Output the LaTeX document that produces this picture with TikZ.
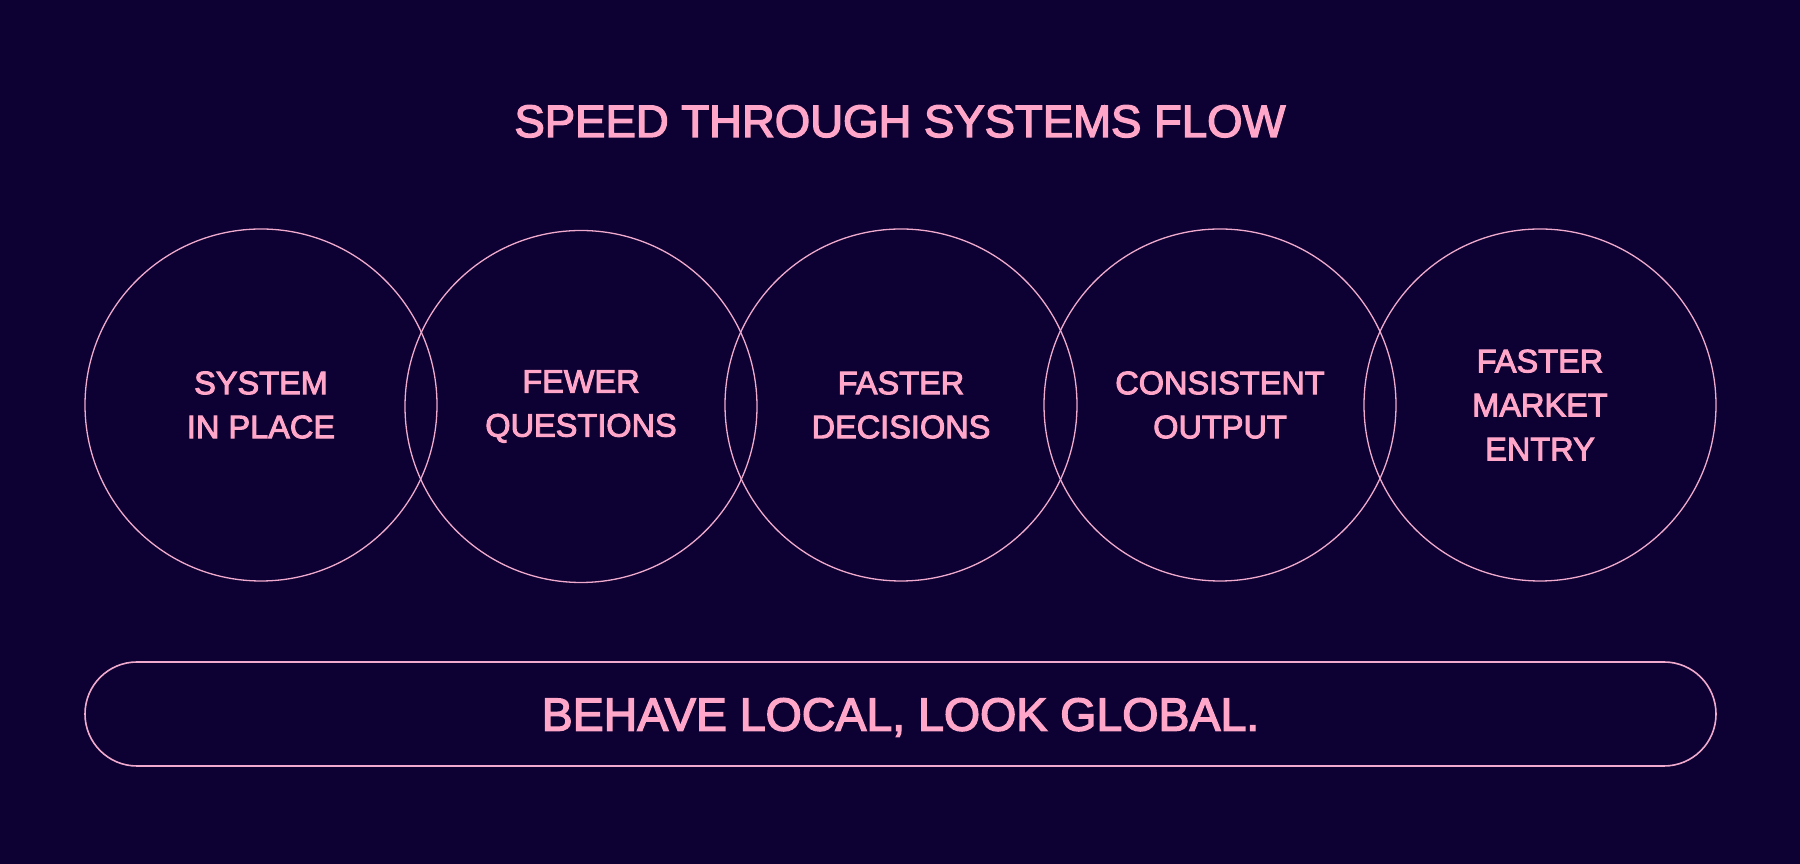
\documentclass[tikz,border=0pt]{standalone}
\usepackage{fontspec}
\setmainfont{Liberation Sans}[FakeBold=3]
\usepackage{xcolor}
\usepackage{tikz}
\usetikzlibrary{positioning}
\definecolor{bgnavy}{RGB}{13,0,50}
\definecolor{softpink}{RGB}{255,166,201}
\definecolor{ringpink}{RGB}{240,170,205}

\begin{document}
\begin{tikzpicture}[x=1pt, y=1pt,
    ring/.style={circle, draw=ringpink, line width=1.3pt, minimum size=352pt, inner sep=0pt,
        text=softpink, align=center, font=\fontsize{32.5}{44}\selectfont},
    pill/.style={draw=ringpink, line width=1.6pt, rounded corners=52pt, minimum width=1631pt,
        minimum height=104pt, text=softpink, text height=33.3pt, text depth=0pt,
        font=\fontsize{46.5}{50}\selectfont}]
    \fill[bgnavy] (0,0) rectangle (1800,864);
    \useasboundingbox (0,0) rectangle (1800,864);
    \node[anchor=base, text=softpink, font=\fontsize{45.5}{50}\selectfont] (title) at (900,727) {SPEED THROUGH SYSTEMS FLOW};
    \node[ring] (system) at (261,459) {SYSTEM\\IN PLACE};
    \node[ring] (fewer) at (581,457.5) {FEWER\\QUESTIONS};
    \node[ring] (decide) at (901,459) {FASTER\\DECISIONS};
    \node[ring] (output) at (1220,459) {CONSISTENT\\OUTPUT};
    \node[ring] (market) at (1540,459) {FASTER\\MARKET\\ENTRY};
    \node[pill] (motto) at (900.5,150) {BEHAVE LOCAL, LOOK GLOBAL.};
\end{tikzpicture}
\end{document}
